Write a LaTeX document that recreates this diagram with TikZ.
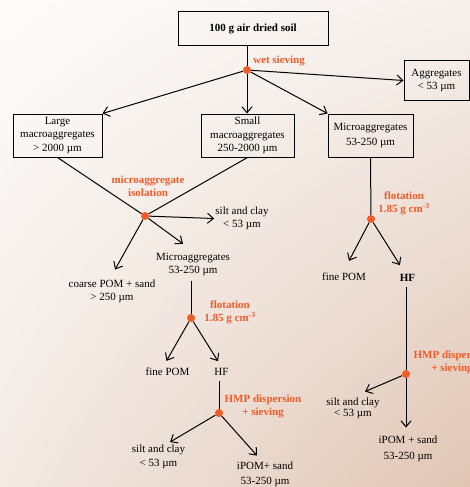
\documentclass[tikz,border=0pt]{standalone}
\usepackage{fontspec}
\setmainfont{Liberation Serif}
\usetikzlibrary{arrows.meta,shadings}
\definecolor{sieveorange}{RGB}{240,92,40}
\definecolor{bgul}{RGB}{253,252,251}
\definecolor{bgur}{RGB}{246,240,236}
\definecolor{bgll}{RGB}{243,234,228}
\definecolor{bglr}{RGB}{224,197,180}
\begin{document}
\begin{tikzpicture}[x=1pt,y=-1pt,
    font=\fontsize{11}{13.5}\selectfont,
    box/.style={draw,line width=1pt,align=center,inner sep=1pt},
    txt/.style={align=center,inner sep=1pt},
    proc/.style={text=sieveorange,font=\fontsize{11}{13}\selectfont\bfseries,align=center,inner sep=1pt},
    stage/.style={circle,fill=sieveorange,inner sep=0pt,minimum size=8pt},
    link/.style={line width=1pt},
    arr/.style={line width=1pt,-{Straight Barb[length=6pt,width=10pt]}}]

      % Page and background
      \useasboundingbox (0,0) rectangle (470,487);
      \shade[upper left=bgul,upper right=bgur,lower left=bgll,lower right=bglr]
             (0,0) rectangle (470,487);

      % Soil sample and wet sieving
      \node[box,font=\fontsize{11}{13.5}\selectfont\bfseries,minimum width=150pt,minimum height=34pt] (soil) at (253,29) {100 g air dried soil};
      \node[stage] (sieve) at (247,70) {};
      \node[proc,anchor=west] (sievelab) at (252,61) {wet sieving};

      \node[box,minimum width=65pt,minimum height=39pt] (agg) at (436.5,80.5) {Aggregates\\< 53 µm};
      \node[box,minimum width=89pt,minimum height=43pt] (large) at (57.5,135.5) {Large\\macroaggregates\\> 2000 µm};
      \node[box,minimum width=93pt,minimum height=43pt] (small) at (247.5,135.5) {Small\\macroaggregates\\250-2000 µm};
      \node[box,minimum width=85pt,minimum height=43pt] (micro) at (370.5,135.5) {Microaggregates\\[2pt]53-250 µm};

      % Left branch: microaggregate isolation
      \node[stage] (isolate) at (145,216) {};
      \node[proc] (isolatelab) at (148,186) {microaggregate\\isolation};
      \node[txt] (silta) at (242,218.5) {silt and clay\\< 53 µm};
      \node[txt] (micb) at (193,264.5) {Microaggregates\\53-250 µm};
      \node[txt] (coarse) at (112,291.5) {coarse POM + sand\\> 250 µm};

      \node[stage] (floata) at (191,318) {};
      \node[proc] (floatalab) at (230,312) {flotation\\1.85 g cm\textsuperscript{-3}};
      \node[txt] (finea) at (167.5,372) {fine POM};
      \node[txt] (hfa) at (221.5,372) {HF};

      \node[stage] (dispa) at (219,413) {};
      \node[proc] (dispalab) at (263,406) {HMP dispersion\\+ sieving};
      \node[txt] (siltb) at (158.5,457) {silt and clay\\< 53 µm};
      \node[txt] (ipoma) at (265,474.5) {iPOM+ sand\\[2pt]53-250 µm};

      % Right branch: flotation of microaggregates
      \node[stage] (floatb) at (371,219) {};
      \node[proc] (floatblab) at (404,203) {flotation\\1.85 g cm\textsuperscript{-3}};
      \node[txt] (fineb) at (344,277) {fine POM};
      \node[txt,font=\fontsize{11}{13.5}\selectfont\bfseries] (hfb) at (407.5,278) {HF};

      \node[stage] (dispb) at (406,374) {};
      \node[proc] (dispblab) at (452,362) {HMP dispersion\\+ sieving};
      \node[txt] (siltc) at (353,408.5) {silt and clay\\[-2pt]< 53 µm};
      \node[txt] (ipomb) at (408,449) {iPOM + sand\\[3pt]53-250 µm};

      % Connectors
      \draw[link] (soil.south -| sieve) -- (sieve);
      \draw[arr] (sieve) -- (agg.west);
      \draw[arr] (sieve) -- (large.north east);
      \draw[arr] (sieve) -- (small.north -| sieve);
      \draw[arr] (sieve) -- (micro.north west);

      \draw[link] (large.south) -- (isolate);
      \draw[link] (small.south) -- (isolate);
      \draw[arr] (isolate) -- (silta.west);
      \draw[arr] (isolate) -- ([shift={(-10pt,8pt)}]micb.north);
      \draw[arr] (isolate) -- ([shift={(3pt,9pt)}]coarse.north);

      \draw[link,shorten <=4pt] (micb.south -| floata) -- (floata);
      \draw[arr] (floata) -- ([shift={(-1pt,6pt)}]finea.north);
      \draw[arr] (floata) -- ([shift={(-3.5pt,6pt)}]hfa.north);

      \draw[link,shorten <=4pt] (hfa.south -| dispa) -- (dispa);
      \draw[arr] (dispa) -- ([shift={(11.5pt,2pt)}]siltb.north);
      \draw[arr] (dispa) -- ([shift={(-8pt,5pt)}]ipoma.north);

      \draw[link] (micro.south) -- (floatb);
      \draw[arr] (floatb) -- ([shift={(5pt,11pt)}]fineb.north);
      \draw[arr] (floatb) -- ([shift={(-7.5pt,8pt)}]hfb.north);

      \draw[link,shorten <=4pt] (hfb.south -| dispb) -- (dispb);
      \draw[arr] (dispb) -- ([shift={(12pt,5pt)}]siltc.north);
      \draw[arr] (dispb) -- ([shift={(0pt,7pt)}]ipomb.north -| dispb);

\end{tikzpicture}
\end{document}
